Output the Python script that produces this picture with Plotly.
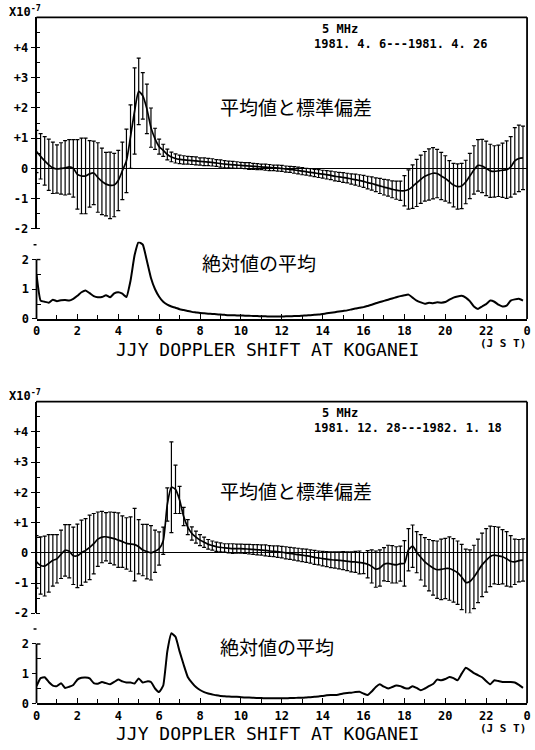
import numpy as np
import plotly.graph_objects as go

# ---------------- data (12-minute steps, units of 1e-7) ----------------
HOURS = np.round(np.arange(120) * 0.2, 1)

MEAN_1 = [
    0.56, 0.40, 0.25, 0.12, 0.02, -0.02, 0.00, 0.02, 0.05, 0.00,
    -0.20, -0.25, -0.25, -0.18, -0.15, -0.30, -0.43, -0.52, -0.56, -0.55,
    -0.40, -0.08, 0.25, 1.05, 1.90, 2.55, 2.40, 1.97, 1.35, 0.98,
    0.72, 0.60, 0.46, 0.38, 0.33, 0.30, 0.28, 0.27, 0.26, 0.25,
    0.23, 0.22, 0.21, 0.20, 0.18, 0.16, 0.14, 0.13, 0.12, 0.11,
    0.10, 0.09, 0.08, 0.07, 0.06, 0.05, 0.04, 0.03, 0.02, 0.01,
    0.00, -0.02, -0.03, -0.05, -0.07, -0.09, -0.11, -0.13, -0.15, -0.17,
    -0.19, -0.21, -0.23, -0.26, -0.28, -0.30, -0.32, -0.35, -0.37, -0.40,
    -0.43, -0.47, -0.50, -0.54, -0.58, -0.62, -0.65, -0.69, -0.72, -0.74,
    -0.74, -0.70, -0.60, -0.48, -0.36, -0.26, -0.20, -0.16, -0.17, -0.25,
    -0.33, -0.44, -0.55, -0.60, -0.58, -0.45, -0.25, -0.05, 0.10, 0.08,
    0.00, -0.08, -0.10, -0.08, -0.06, -0.04, 0.05, 0.25, 0.33, 0.35,
]
STD_1 = [
    0.70, 0.75, 0.80, 0.85, 0.85, 0.80, 0.85, 0.90, 0.90, 0.95,
    1.15, 1.25, 1.25, 1.10, 1.05, 1.15, 1.10, 1.05, 1.10, 1.05,
    1.00, 0.95, 1.05, 1.05, 1.43, 1.10, 0.77, 0.82, 0.65, 0.35,
    0.25, 0.20, 0.18, 0.16, 0.15, 0.14, 0.14, 0.13, 0.13, 0.13,
    0.12, 0.13, 0.12, 0.12, 0.11, 0.12, 0.12, 0.11, 0.11, 0.11,
    0.10, 0.10, 0.11, 0.10, 0.10, 0.09, 0.10, 0.10, 0.09, 0.10,
    0.10, 0.10, 0.10, 0.11, 0.11, 0.12, 0.11, 0.12, 0.12, 0.13,
    0.13, 0.14, 0.14, 0.15, 0.15, 0.16, 0.16, 0.17, 0.18, 0.19,
    0.20, 0.21, 0.22, 0.23, 0.25, 0.26, 0.27, 0.28, 0.30, 0.32,
    0.50, 0.65, 0.72, 0.78, 0.80, 0.82, 0.85, 0.85, 0.80, 0.78,
    0.75, 0.70, 0.72, 0.75, 0.75, 0.72, 0.75, 0.80, 0.85, 0.88,
    0.90, 0.88, 0.85, 0.85, 0.90, 0.95, 1.00, 1.10, 1.10, 1.05,
]
ABS_1 = [
    1.50, 0.62, 0.58, 0.55, 0.65, 0.60, 0.63, 0.64, 0.62, 0.68,
    0.78, 0.90, 0.96, 0.87, 0.77, 0.73, 0.74, 0.80, 0.73, 0.86,
    0.90, 0.85, 0.74, 1.29, 2.15, 2.59, 2.50, 1.96, 1.38, 1.00,
    0.75, 0.58, 0.48, 0.42, 0.38, 0.33, 0.30, 0.27, 0.24, 0.22,
    0.20, 0.19, 0.18, 0.17, 0.16, 0.15, 0.14, 0.13, 0.13, 0.12,
    0.12, 0.11, 0.11, 0.10, 0.10, 0.09, 0.09, 0.08, 0.08, 0.08,
    0.08, 0.09, 0.09, 0.10, 0.10, 0.11, 0.12, 0.13, 0.14, 0.15,
    0.17, 0.19, 0.21, 0.23, 0.25, 0.27, 0.29, 0.32, 0.35, 0.38,
    0.40, 0.44, 0.48, 0.53, 0.57, 0.61, 0.65, 0.69, 0.73, 0.77,
    0.80, 0.82, 0.72, 0.62, 0.56, 0.51, 0.55, 0.53, 0.56, 0.55,
    0.57, 0.65, 0.72, 0.76, 0.78, 0.72, 0.60, 0.42, 0.34, 0.42,
    0.50, 0.62, 0.58, 0.48, 0.42, 0.45, 0.62, 0.66, 0.68, 0.62,
]

MEAN_2 = [
    -0.30, -0.42, -0.44, -0.35, -0.25, -0.20, -0.05, 0.08, 0.05, -0.10,
    -0.10, 0.00, 0.08, 0.18, 0.30, 0.45, 0.52, 0.53, 0.50, 0.47,
    0.42, 0.37, 0.31, 0.29, 0.27, 0.20, 0.09, 0.04, 0.00, 0.05,
    0.14, 0.40, 1.60, 2.17, 2.10, 1.75, 1.20, 0.85, 0.64, 0.52,
    0.42, 0.35, 0.28, 0.24, 0.20, 0.18, 0.16, 0.15, 0.14, 0.14,
    0.14, 0.13, 0.12, 0.11, 0.10, 0.09, 0.08, 0.06, 0.05, 0.04,
    0.02, 0.00, -0.02, -0.04, -0.06, -0.08, -0.10, -0.12, -0.15, -0.17,
    -0.19, -0.21, -0.23, -0.24, -0.25, -0.26, -0.28, -0.30, -0.30, -0.32,
    -0.34, -0.38, -0.45, -0.54, -0.50, -0.38, -0.35, -0.38, -0.40, -0.36,
    -0.35, 0.10, 0.22, 0.02, -0.15, -0.30, -0.41, -0.50, -0.56, -0.55,
    -0.52, -0.52, -0.58, -0.66, -0.80, -0.98, -0.95, -0.80, -0.60, -0.40,
    -0.25, -0.12, -0.08, -0.10, -0.13, -0.20, -0.28, -0.30, -0.26, -0.24,
]
STD_2 = [
    0.87, 0.95, 0.99, 0.95, 0.85, 0.80, 0.80, 0.85, 0.88, 0.95,
    1.05, 1.08, 1.05, 1.07, 1.00, 0.90, 0.85, 0.80, 0.85, 0.87,
    0.90, 0.85, 0.85, 0.90, 1.20, 0.90, 0.85, 0.90, 0.90, 0.70,
    0.55, 0.45, 0.55, 1.50, 0.80, 0.45, 0.30, 0.25, 0.22, 0.20,
    0.18, 0.17, 0.16, 0.15, 0.15, 0.15, 0.14, 0.15, 0.16, 0.15,
    0.15, 0.15, 0.16, 0.16, 0.17, 0.17, 0.18, 0.18, 0.18, 0.19,
    0.19, 0.20, 0.20, 0.20, 0.21, 0.21, 0.22, 0.22, 0.23, 0.23,
    0.24, 0.25, 0.26, 0.27, 0.28, 0.30, 0.31, 0.33, 0.35, 0.38,
    0.35, 0.45, 0.55, 0.60, 0.60, 0.55, 0.60, 0.62, 0.60, 0.58,
    0.75, 0.70, 0.70, 0.68, 0.75, 0.80, 0.85, 0.90, 0.95, 1.00,
    1.00, 1.05, 1.05, 1.05, 1.08, 1.10, 1.05, 1.05, 1.05, 1.05,
    1.05, 1.00, 0.95, 0.95, 0.90, 0.90, 0.85, 0.75, 0.70, 0.70,
]
ABS_2 = [
    0.58, 0.85, 0.88, 0.72, 0.60, 0.58, 0.68, 0.52, 0.56, 0.62,
    0.80, 0.86, 0.87, 0.84, 0.68, 0.66, 0.72, 0.68, 0.64, 0.72,
    0.80, 0.74, 0.70, 0.70, 0.67, 0.84, 0.70, 0.74, 0.72, 0.50,
    0.38, 0.60, 1.75, 2.36, 2.24, 1.75, 1.30, 0.89, 0.70, 0.55,
    0.45, 0.38, 0.33, 0.30, 0.27, 0.25, 0.24, 0.23, 0.22, 0.22,
    0.21, 0.20, 0.20, 0.19, 0.18, 0.18, 0.17, 0.17, 0.17, 0.17,
    0.17, 0.17, 0.18, 0.18, 0.19, 0.19, 0.20, 0.21, 0.22, 0.23,
    0.25, 0.27, 0.28, 0.28, 0.30, 0.33, 0.35, 0.36, 0.38, 0.39,
    0.33, 0.28, 0.40, 0.55, 0.64, 0.56, 0.50, 0.55, 0.60, 0.58,
    0.52, 0.50, 0.58, 0.52, 0.44, 0.50, 0.58, 0.65, 0.80, 0.78,
    0.82, 0.89, 0.85, 0.78, 1.00, 1.20, 1.12, 1.02, 0.95, 0.88,
    0.75, 0.64, 0.78, 0.75, 0.72, 0.72, 0.72, 0.70, 0.62, 0.52,
]

X_TICKS = [0, 2, 4, 6, 8, 10, 12, 14, 16, 18, 20, 22, 24]
X_TICKTEXT = ["0", "2", "4", "6", "8", "10", "12", "14", "16", "18", "20", "22", "0"]
Y_UP_TICKS = [-2, -1, 0, 1, 2, 3, 4]
Y_UP_TEXT = ["-2", "-1", "0", "+1", "+2", "+3", "+4"]
Y_LO_TICKS = [0, 1, 2]
Y_LO_TEXT = ["0", "1", "2"]

PANELS = [
    dict(mean=MEAN_1, std=STD_1, absv=ABS_1, freq="5 MHz",
         period="1981. 4. 6---1981. 4. 26", abs_x=200),
    dict(mean=MEAN_2, std=STD_2, absv=ABS_2, freq="5 MHz",
         period="1981. 12. 28---1982. 1. 18", abs_x=218),
]

# ---------------- layout geometry (pixels) ----------------
W, H = 535, 750
X_L, X_R = 33, 531
OFFSETS = [0, 388]
UP_ZERO, UP_SCALE = 170, 30.5
LO_ZERO, LO_SCALE = 322, 30.0
UP_RANGE = [-2, 5]
LO_RANGE = [0, 2.6]

MONO = "DejaVu Sans Mono"
JP = "Noto Sans CJK JP"
INK = "#000000"


def px(x):
    return x / W


def py(y):
    return 1 - y / H


fig = go.Figure()
layout = dict(
    width=W, height=H, margin=dict(l=0, r=0, t=0, b=0),
    paper_bgcolor="white", plot_bgcolor="white", showlegend=False,
)
shapes, annotations = [], []
tick_font = dict(family=MONO, size=12, color=INK, weight="bold")

for i, (p, off) in enumerate(zip(PANELS, OFFSETS)):
    xa = "x" if i == 0 else "x2"
    ya_up = "y" if i == 0 else "y3"
    ya_lo = "y2" if i == 0 else "y4"
    xkey = "xaxis" if i == 0 else "xaxis2"
    up_key = "yaxis" if i == 0 else "yaxis3"
    lo_key = "yaxis2" if i == 0 else "yaxis4"

    up_top = off + UP_ZERO - UP_RANGE[1] * UP_SCALE
    up_bot = off + UP_ZERO - UP_RANGE[0] * UP_SCALE
    lo_top = off + LO_ZERO - LO_RANGE[1] * LO_SCALE
    lo_bot = off + LO_ZERO

    fig.add_trace(go.Scatter(
        x=HOURS, y=p["mean"], mode="lines", xaxis=xa, yaxis=ya_up,
        line=dict(color=INK, width=1.7, shape="spline", smoothing=0.6),
        error_y=dict(type="data", array=p["std"], visible=True,
                     color=INK, thickness=1.2, width=2),
    ))
    fig.add_trace(go.Scatter(
        x=HOURS, y=p["absv"], mode="lines", xaxis=xa, yaxis=ya_lo,
        line=dict(color=INK, width=2, shape="spline", smoothing=0.4),
    ))

    layout[xkey] = dict(
        domain=[px(X_L), px(X_R)], range=[0, 24], anchor=ya_lo,
        tickmode="array", tickvals=X_TICKS, ticktext=X_TICKTEXT,
        ticks="inside", ticklen=5, tickwidth=1.4, tickcolor=INK,
        minor=dict(dtick=1, tick0=0, ticks="inside", ticklen=4,
                   tickwidth=1.4, tickcolor=INK),
        showline=True, linecolor=INK, linewidth=1.8,
        showgrid=False, zeroline=False, tickfont=tick_font,
    )
    layout[up_key] = dict(
        domain=[py(up_bot), py(up_top)], range=UP_RANGE, anchor=xa,
        tickmode="array", tickvals=Y_UP_TICKS, ticktext=Y_UP_TEXT,
        ticks="outside", ticklen=4, tickwidth=1.4, tickcolor=INK,
        minor=dict(dtick=0.5, tick0=0, ticks="inside", ticklen=4,
                   tickwidth=1.3, tickcolor=INK),
        showline=True, linecolor=INK, linewidth=1.8,
        showgrid=False, zeroline=True, zerolinecolor=INK, zerolinewidth=1.2,
        tickfont=tick_font,
    )
    layout[lo_key] = dict(
        domain=[py(lo_bot), py(lo_top)], range=LO_RANGE, anchor=xa,
        tickmode="array", tickvals=Y_LO_TICKS, ticktext=Y_LO_TEXT,
        ticks="outside", ticklen=4, tickwidth=1.4, tickcolor=INK,
        minor=dict(tickmode="array", tickvals=[0.5, 1.5], ticks="inside",
                   ticklen=4, tickwidth=1.3, tickcolor=INK),
        showline=False, showgrid=False, zeroline=False, tickfont=tick_font,
    )

    # frame: top border, right border, short left axis of lower panel
    shapes.append(dict(type="line", xref="paper", yref="paper",
                       x0=px(X_L), x1=px(X_R), y0=py(up_top), y1=py(up_top),
                       line=dict(color=INK, width=1.8)))
    shapes.append(dict(type="line", xref="paper", yref="paper",
                       x0=px(X_R), x1=px(X_R), y0=py(up_top), y1=py(lo_bot),
                       line=dict(color=INK, width=1.8)))
    shapes.append(dict(type="line", xref=xa + " domain", yref=ya_lo,
                       x0=0, x1=0, y0=0, y1=2,
                       line=dict(color=INK, width=1.8)))
    shapes.append(dict(type="line", xref=xa + " domain", yref=ya_lo,
                       x0=0, x1=0.008, y0=2, y1=2,
                       line=dict(color=INK, width=1.4)))
    shapes.append(dict(type="line", xref=xa + " domain", yref=ya_lo,
                       x0=-0.006, x1=0, y0=2.5, y1=2.5,
                       line=dict(color=INK, width=1.4)))

    def ann(text, x, y, xanchor="left", size=12, family=MONO, weight="normal"):
        annotations.append(dict(
            text=text, x=px(x), y=py(y), xref="paper", yref="paper",
            xanchor=xanchor, yanchor="middle", showarrow=False, borderpad=0,
            font=dict(family=family, size=size, color=INK, weight=weight)))

    ann("X10<sup>-7</sup>", 4, off + 11, weight="bold")
    ann(p["freq"], 322, off + 29, weight="bold")
    ann(p["period"], 314, off + 44, weight="bold")
    ann("平均値と標準偏差", 218, off + 107, size=19, family=JP)
    ann("絶対値の平均", p["abs_x"], off + 265, size=19, family=JP)
    ann("JJY DOPPLER SHIFT AT KOGANEI", 267, min(off + 353, 740),
        xanchor="center", size=18)
    ann("(J S T)", 507, off + 347, xanchor="center", size=11, weight="bold")

layout["shapes"] = shapes
layout["annotations"] = annotations
fig.update_layout(**layout)
fig.write_html("out.html")
